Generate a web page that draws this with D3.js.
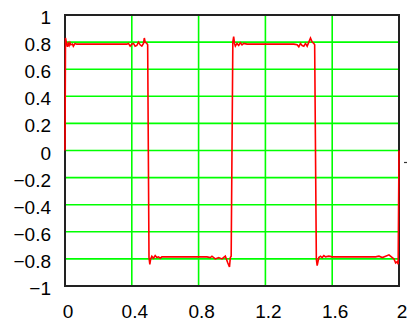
<!DOCTYPE html>
<html>
<head>
<meta charset="utf-8">
<script src="https://cdn.jsdelivr.net/npm/d3@7"></script>
<style>
  html, body { margin: 0; padding: 0; background: #ffffff; }
  svg { display: block; }
  text { font-family: "Liberation Sans", Arial, sans-serif; font-size: 19px; fill: #000; }
</style>
</head>
<body>
<script>
// Axis ticks and their labels
const xTicks = [0, 0.4, 0.8, 1.2, 1.6, 2];
const xTickLabels = ["0", "0.4", "0.8", "1.2", "1.6", "2"];
const yTicks = [1, 0.8, 0.6, 0.4, 0.2, 0, -0.2, -0.4, -0.6, -0.8, -1];
const yTickLabels = ["1", "0.8", "0.6", "0.4", "0.2", "0", "\u22120.2", "\u22120.4", "\u22120.6", "\u22120.8", "\u22121"];

// Sampled signal: a square wave of period 1 with ringing near each jump
const signalX = [
  0, 0.003, 0.008, 0.015, 0.02, 0.025, 0.03, 0.035, 0.045, 0.05, 0.055, 0.06, 0.07,
  0.37, 0.38, 0.39, 0.40, 0.41, 0.42, 0.43, 0.44, 0.45, 0.46, 0.47, 0.475, 0.48, 0.49, 0.495,
  0.503, 0.508, 0.513, 0.52, 0.53, 0.54, 0.55, 0.56, 0.57, 0.58, 0.64,
  0.85, 0.87, 0.88, 0.90, 0.92, 0.94, 0.96, 0.975, 0.985, 0.99, 0.995,
  1.005, 1.01, 1.015, 1.02, 1.03, 1.04, 1.05, 1.06, 1.07, 1.09,
  1.37, 1.39, 1.40, 1.41, 1.42, 1.43, 1.44, 1.45, 1.46, 1.47, 1.48, 1.49, 1.495,
  1.505, 1.51, 1.515, 1.52, 1.53, 1.54, 1.55, 1.56, 1.58, 1.60, 1.63,
  1.86, 1.88, 1.90, 1.92, 1.94, 1.96, 1.97, 1.98, 1.99, 1.995, 2.0
];
const signalY = [
  0, 0.83, 0.80, 0.765, 0.79, 0.775, 0.795, 0.78, 0.785, 0.77, 0.78, 0.79, 0.785,
  0.785, 0.79, 0.77, 0.785, 0.79, 0.77, 0.775, 0.80, 0.78, 0.77, 0.79, 0.83, 0.80, 0.79, 0.78,
  -0.79, -0.84, -0.80, -0.78, -0.795, -0.775, -0.79, -0.785, -0.795, -0.785, -0.785,
  -0.785, -0.79, -0.78, -0.80, -0.79, -0.80, -0.78, -0.83, -0.86, -0.79, -0.78,
  0.80, 0.84, 0.79, 0.77, 0.79, 0.775, 0.795, 0.78, 0.79, 0.785,
  0.785, 0.78, 0.765, 0.79, 0.775, 0.77, 0.79, 0.77, 0.80, 0.83, 0.80, 0.79, 0.78,
  -0.80, -0.85, -0.82, -0.79, -0.78, -0.79, -0.775, -0.785, -0.78, -0.785, -0.785,
  -0.785, -0.78, -0.79, -0.78, -0.77, -0.79, -0.80, -0.83, -0.82, -0.84, 0
];

const width = 407, height = 321;
const plot = { left: 65, right: 399, top: 15, bottom: 286 };

const svg = d3.select("body").append("svg")
  .attr("width", width)
  .attr("height", height);

const x = d3.scaleLinear().domain([0, 2]).range([plot.left, plot.right]);
const y = d3.scaleLinear().domain([-1, 1]).range([plot.bottom, plot.top]);

// Grid
const grid = svg.append("g").attr("stroke", "#00ff00").attr("stroke-width", 1.6);
grid.selectAll("line.gx")
  .data(xTicks.filter(v => v > 0 && v < 2))
  .join("line")
  .attr("class", "gx")
  .attr("x1", d => x(d)).attr("x2", d => x(d))
  .attr("y1", plot.top).attr("y2", plot.bottom);
grid.selectAll("line.gy")
  .data(yTicks.filter(v => v > -1 && v < 1))
  .join("line")
  .attr("class", "gy")
  .attr("x1", plot.left).attr("x2", plot.right)
  .attr("y1", d => y(d)).attr("y2", d => y(d));

// Frame
svg.append("rect")
  .attr("x", plot.left).attr("y", plot.top)
  .attr("width", plot.right - plot.left)
  .attr("height", plot.bottom - plot.top)
  .attr("fill", "none")
  .attr("stroke", "#222")
  .attr("stroke-width", 2);

// Signal trace
const pts = signalX.map((v, i) => [v, signalY[i]]);
svg.append("path")
  .datum(pts)
  .attr("fill", "none")
  .attr("stroke", "#ff0000")
  .attr("stroke-width", 1.6)
  .attr("stroke-linejoin", "miter")
  .attr("d", d3.line().x(d => x(d[0])).y(d => y(d[1])));

// Tick labels
svg.append("g").selectAll("text")
  .data(yTicks)
  .join("text")
  .attr("x", 51)
  .attr("y", d => y(d) + 9)
  .attr("text-anchor", "end")
  .text((d, i) => yTickLabels[i]);

svg.append("g").selectAll("text")
  .data(xTicks)
  .join("text")
  .attr("x", d => x(d) + 3)
  .attr("y", 318)
  .attr("text-anchor", "middle")
  .text((d, i) => xTickLabels[i]);

// Small marker to the right of the frame
svg.append("line")
  .attr("x1", 404).attr("x2", 407)
  .attr("y1", y(0) + 12).attr("y2", y(0) + 12)
  .attr("stroke", "#333")
  .attr("stroke-width", 1.2);
</script>
</body>
</html>
